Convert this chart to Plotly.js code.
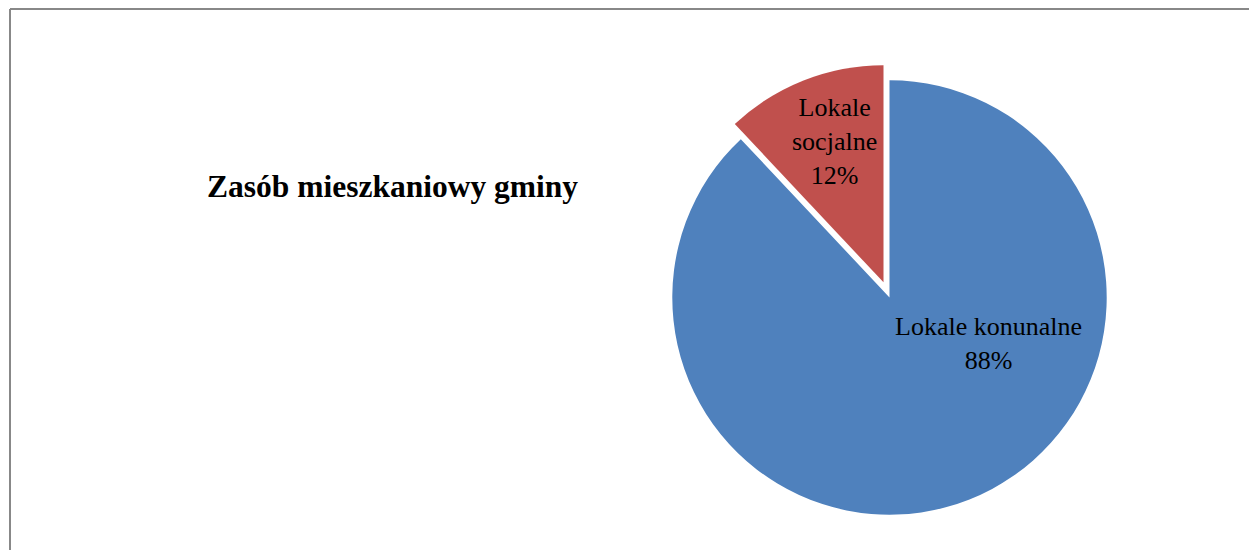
<!DOCTYPE html>
<html>
<head>
<meta charset="utf-8">
<script src="https://cdn.plot.ly/plotly-3.0.1.min.js"></script>
<style>html,body{margin:0;padding:0;background:#fff;}#chart{width:1249px;height:550px;}</style>
</head>
<body>
<div id="chart"></div>
<script>
const categories = ["Lokale konunalne", "Lokale socjalne"];
const labelLines = ["Lokale konunalne", "Lokale<br>socjalne"];
const values = [88, 12];
const colors = ["#4F81BD", "#C0504D"];
const pulls = [0, 0.075];
const titleText = "Zasób mieszkaniowy gminy";

const W = 1249, H = 550;
const px = x => x / W;
const py = y => 1 - y / H;

const total = values.reduce((a, b) => a + b, 0);
const pct = values.map(v => Math.round(v / total * 100) + "%");

// label anchor positions (pixels) for each slice label block
const labelPos = [[988, 343], [834, 141]];

const annotations = categories.map((c, i) => ({
  xref: "paper", yref: "paper",
  x: px(labelPos[i][0]), y: py(labelPos[i][1]),
  xanchor: "center", yanchor: "middle",
  text: labelLines[i] + "<br>" + pct[i],
  showarrow: false,
  align: "center",
  font: {family: "Liberation Serif, Times New Roman, serif", size: 26, color: "#000"}
}));

const trace = {
  type: "pie",
  labels: categories,
  values: values,
  sort: false,
  direction: "clockwise",
  rotation: 0,
  pull: pulls,
  marker: {colors: colors, line: {color: "#ffffff", width: 0}},
  textinfo: "none",
  hoverinfo: "label+percent",
  showlegend: false,
  domain: {x: [px(656), px(1123)], y: [py(531), py(64)]}
};

const layout = {
  width: W, height: H,
  margin: {l: 0, r: 0, t: 0, b: 0},
  paper_bgcolor: "#ffffff",
  showlegend: false,
  title: {
    text: "<b>" + titleText + "</b>",
    x: px(207), xanchor: "left",
    y: py(186), yanchor: "middle",
    font: {family: "Liberation Serif, Times New Roman, serif", size: 31.5, color: "#000"}
  },
  annotations: annotations,
  shapes: [
    {type: "line", xref: "paper", yref: "paper", x0: px(10), x1: 1.01, y0: py(9), y1: py(9), line: {color: "#888888", width: 2}},
    {type: "line", xref: "paper", yref: "paper", x0: px(10), x1: px(10), y0: py(9), y1: -0.01, line: {color: "#888888", width: 2}}
  ]
};

Plotly.newPlot("chart", [trace], layout, {displayModeBar: false, staticPlot: true});
</script>
</body>
</html>
